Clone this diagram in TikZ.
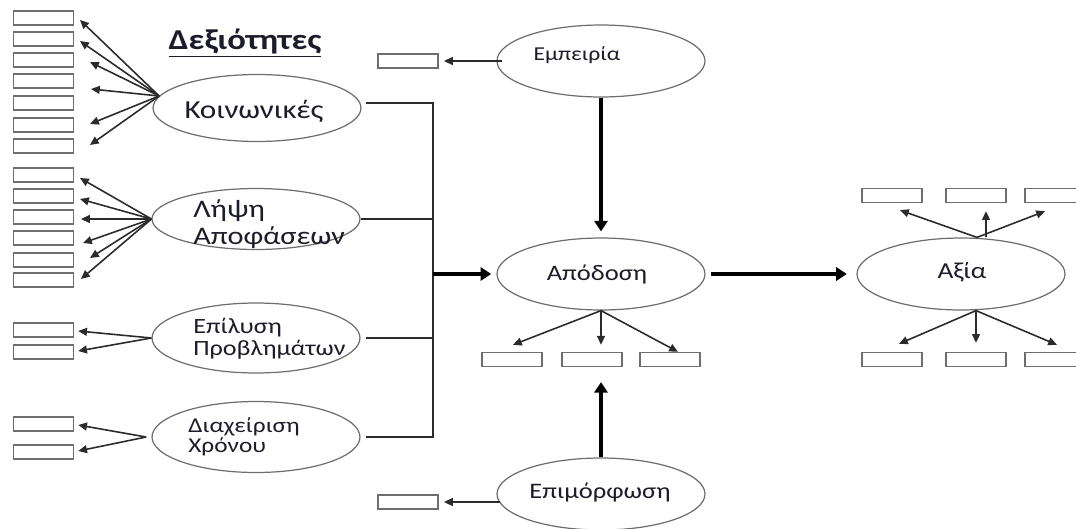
\documentclass[tikz,border=0pt]{standalone}
\usepackage{fontspec}
\setmainfont{Carlito}[FakeStretch=1.2]
\usetikzlibrary{shapes.geometric,arrows.meta}
\definecolor{SkGray}{HTML}{6E6E6E}
\definecolor{SkLine}{HTML}{2B2B2B}
\definecolor{SkText}{HTML}{1C1C2A}

\begin{document}
\begin{tikzpicture}[x=0.02cm,y=-0.02cm,
  slot/.style={draw=SkGray,line width=0.8pt,minimum width=1.2cm,minimum height=0.28cm,inner sep=0pt},
  blob/.style={draw=SkGray,line width=0.7pt,ellipse,minimum width=4.16cm,minimum height=1.44cm,inner sep=0pt},
  fan/.style={SkLine,line width=0.9pt,-{Triangle[length=5pt,width=4.5pt]}},
  link/.style={SkLine,line width=0.6pt},
  flow/.style={black,line width=1.8pt,-{Triangle[length=6pt,width=7.5pt]}},
  word/.style={inner sep=0pt,text=SkText,align=left}]
\path[use as bounding box] (0,0) rectangle (1076,528);

\node[word,font=\bfseries\fontsize{16.4}{18}\selectfont] (title) at (245,43) {\underline{Δεξιότητες}};

% skills
\node[blob,minimum height=1.34cm] (koin) at (257,108) {};
\node[word,font=\fontsize{14.8}{16}\selectfont] (koin-t) at (254,111) {Κοινωνικές};
\node[blob,minimum height=1.22cm] (lipsi) at (256,219) {};
\node[word,anchor=west,font=\fontsize{14.4}{15.3}\selectfont] (lipsi-t) at (193,224) {Λήψη\\Αποφάσεων};
\node[blob,minimum height=1.4cm] (epil) at (256,338) {};
\node[word,anchor=west,font=\fontsize{12.4}{12.5}\selectfont] (epil-t) at (193,339) {Επίλυση\\Προβλημάτων};
\node[blob,minimum height=1.42cm] (diax) at (256,437) {};
\node[word,anchor=west,font=\fontsize{12}{11.5}\selectfont] (diax-t) at (188,437) {Διαχείριση\\Χρόνου};

\foreach \n/\y in {1/18,2/39,3/60,4/81,5/103,6/125,7/146}
  \node[slot] (ks\n) at (43.5,\y) {};
\foreach \n/\y in {1/175,2/196,3/217,4/238,5/260,6/280}
  \node[slot] (ls\n) at (43.5,\y) {};
\node[slot] (es1) at (43.5,330) {};
\node[slot] (es2) at (43.5,352) {};
\node[slot] (ds1) at (43.5,424) {};
\node[slot] (ds2) at (43.5,452) {};

\foreach \n/\x/\y in {1/80/20,2/80/41,3/90/62,4/91/89,5/90/124,6/90/145}
  \coordinate (kt\n) at (\x,\y);
\foreach \n in {1,...,6}
  \draw[fan] (koin.173) -- (kt\n);
\foreach \n/\x/\y in {1/80/178,2/80/199,3/81/219,4/83/243,5/90/258,6/81/279}
  \coordinate (lt\n) at (\x,\y);
\foreach \n in {1,...,6}
  \draw[fan] (lipsi.west) -- (lt\n);
\draw[fan] (epil.west) -- ([shift={(4,1)}]es1.east);
\draw[fan] (epil.west) -- ([shift={(4,-1)}]es2.east);
\draw[fan] ([xshift=-3pt]diax.west) -- ([shift={(4,1)}]ds1.east);
\draw[fan] ([xshift=-3pt]diax.west) -- ([shift={(4,-1)}]ds2.east);

\coordinate (bus) at (433,274);
\draw[link] ([shift={(4,-5)}]koin.east) -| (bus);
\draw[link] (lipsi.east) -| (bus);
\draw[link] ([shift={(5,0)}]epil.east) -| (bus);
\draw[link] ([shift={(5,0)}]diax.east) -| (bus);

% centre column
\node[blob] (empeiria) at (601,61) {};
\node[word,font=\fontsize{11.2}{13}\selectfont] (empeiria-t) at (577,55) {Εμπειρία};
\node[slot] (ms0) at (408,61) {};
\draw[fan] ([xshift=3pt]empeiria.west) -- ([xshift=3pt]ms0.east);

\node[blob] (apodosi) at (601,274) {};
\node[word,font=\fontsize{12.6}{14}\selectfont] (apodosi-t) at (597,274) {Απόδοση};
\draw[flow,shorten >=3pt] (bus) -- (apodosi.west);
\draw[flow,shorten >=3.4pt] (empeiria) -- (apodosi);

\node[slot] (as1) at (512,359.5) {};
\node[slot] (as2) at (592,359.5) {};
\node[slot] (as3) at (670,359.5) {};
\draw[fan] (apodosi.south) -- ([shift={(1,-7)}]as1.north);
\draw[fan,shorten >=4pt] (apodosi.south) -- (apodosi.south |- as2.north);
\draw[fan] (apodosi.south) -- ([shift={(8,0)}]as3.north);

\node[blob] (epim) at (601,494) {};
\node[word,font=\fontsize{12.6}{14}\selectfont] (epim-t) at (600,492) {Επιμόρφωση};
\node[slot] (ms9) at (408,502) {};
\draw[fan] ([shift={(4,8)}]epim.west) -- ([xshift=3pt]ms9.east);
\draw[flow,shorten >=8.5pt] (epim.north) -- (epim.north |- as2.south);

% value
\node[blob] (axia) at (961,274) {};
\node[word,font=\fontsize{13}{14}\selectfont] (axia-t) at (962,272) {Αξία};
\draw[flow,shorten <=3pt,shorten >=5.5pt] (apodosi) -- (axia);

\foreach \n/\x in {1/892,2/976,3/1055} {
  \node[slot] (xs\n) at (\x,195.5) {};
  \node[slot] (ys\n) at (\x,359.5) {};
}
\draw[fan] ([shift={(16,0)}]axia.north) -- ([shift={(8,7)}]xs1.south);
\draw[fan] ([shift={(25,0)}]axia.north) -- ([shift={(10,8)}]xs2.south);
\draw[fan] ([shift={(16,0)}]axia.north) -- ([shift={(-10,8)}]xs3.south);
\draw[fan] ([shift={(15,0)}]axia.south) -- ([shift={(7,-8)}]ys1.north);
\draw[fan] ([shift={(15,0)}]axia.south) -- ([shift={(0,-9)}]ys2.north);
\draw[fan] ([shift={(15,0)}]axia.south) -- ([shift={(2,-7)}]ys3.north);
\end{tikzpicture}
\end{document}
